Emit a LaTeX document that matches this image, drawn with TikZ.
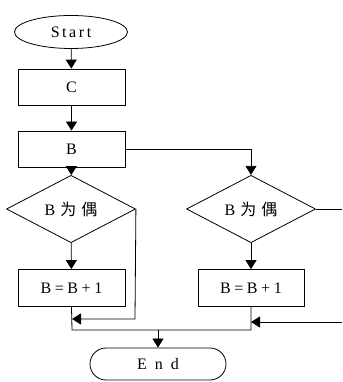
\documentclass[tikz,border=0pt]{standalone}
\usepackage{fontspec}
\setmainfont{Liberation Serif}
\newfontfamily\cjk{Noto Sans CJK SC}
\newfontfamily\spaced[LetterSpace=16]{Liberation Serif}
\newfontfamily\wide[LetterSpace=50]{Liberation Serif}
\usetikzlibrary{shapes.geometric,arrows.meta}

\begin{document}
\begin{tikzpicture}[x = 1pt, y = 1pt, line width = 0.8pt, >={Triangle[width=11pt,length=9pt]},
    box/.style = {rectangle, draw, minimum width = 107pt, minimum height = 36pt, font = \fontsize{16}{18}\selectfont},
    test/.style = {diamond, draw, inner sep = 0pt, minimum width = 129pt, minimum height = 47pt, font = \fontsize{16}{18}\selectfont}]
\useasboundingbox (0,0) rectangle (342,382);
\draw (71,350) node[ellipse, draw, minimum width = 113pt, minimum height = 33pt, font = \fontsize{16}{18}\spaced](a1){Start}
    (71.5,295) node[box](a2){C}
    (71.5,233) node[box](a3){B}
    (71,173) node[test](a4){B\hspace{5pt}{\cjk 为\hspace{5pt}偶}}
    (251,173) node[test](a5){B\hspace{5pt}{\cjk 为\hspace{5pt}偶}}
    (71.5,94) node[box, minimum height = 37pt](a6){B\:=\:B\:+\:1}
    (251,94) node[box, minimum width = 106pt, minimum height = 37pt](a7){B\:=\:B\:+\:1}
    (158,18) node[rectangle, draw, rounded corners = 16pt, minimum width = 136pt, minimum height = 32pt, font = \fontsize{16}{18}\wide](a8){End};
\coordinate (b1) at (251,233);
\coordinate (b2) at (135,63);
\coordinate (b3) at (72,63);
\coordinate (b4) at (72,52);
\coordinate (b5) at (251,52);
\coordinate (b6) at (158,52);
\coordinate (b7) at (342,173);
\coordinate (b8) at (342,60);
\coordinate (b9) at (251,60);
    \draw [->] (a1) -- (a2);
    \draw [->] (a2) -- (a3);
    \draw [->] (a3) -- (a4);
    \draw [->] (a3.east) -- (b1) -- (a5.north);
    \draw [->] (a4) -- (a6);
    \draw [->] (a5) -- (a7);
    \draw [->] (a4.east) -- (b2) -- (b3);
    \draw [-] (a6.south) -- (b4) -- (b5) -- (a7.south);
    \draw [-] (a5.east) -- (b7);
    \draw [->] (b8) -- (b9);
    \draw [->] (b6) -- (a8);
\end{tikzpicture}
\end{document}
